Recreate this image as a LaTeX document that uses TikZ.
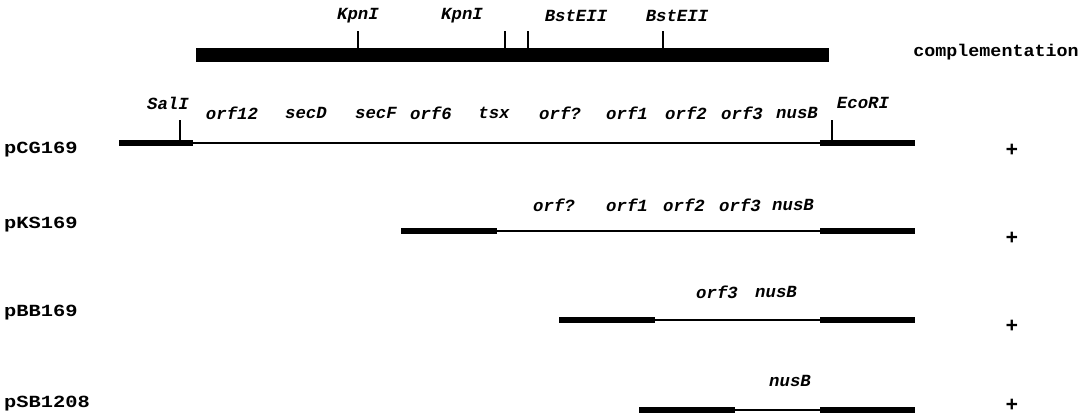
\documentclass[tikz,border=0pt]{standalone}
\usepackage{fontspec}
\usepackage{graphicx}
\newfontfamily\cour{Liberation Mono}
\newcommand\gtxt[1]{\scalebox{1.02}[1]{#1}}
\newcommand\ltxt[1]{\scalebox{1.2}[1]{#1}}
\tikzset{
  lbl/.style={font=\cour\bfseries\fontsize{17}{17}\selectfont, inner sep=0pt},
  gene/.style={font=\cour\bfseries\itshape\fontsize{17}{17}\selectfont, inner sep=0pt},
  plus/.style={font=\cour\bfseries\fontsize{21}{21}\selectfont, inner sep=0pt},
  fatline/.style={line width=5.5pt},
  thinline/.style={line width=2.2pt},
  tick/.style={line width=2.5pt},
  bar/.style={fill=black},
}
\begin{document}
\begin{tikzpicture}[x=1pt,y=-1pt]
\useasboundingbox (0,0) rectangle (1088,418);
% top map
\fill[bar] (196,48) rectangle (829,62);
\coordinate (k1) at (358,48); \coordinate (k1t) at (358,31);
\coordinate (k2) at (505,48); \coordinate (k2t) at (505,31);
\coordinate (b1) at (528,48); \coordinate (b1t) at (528,31);
\coordinate (b2) at (663,48); \coordinate (b2t) at (663,31);
\draw[tick] (k1) -- (k1t); \draw[tick] (k2) -- (k2t);
\draw[tick] (b1) -- (b1t); \draw[tick] (b2) -- (b2t);
\node[gene] (kpn1) at (358,16) {\gtxt{KpnI}};
\node[gene] (kpn2) at (462,16) {\gtxt{KpnI}};
\node[gene] (bst1) at (576,16) {\gtxt{BstEII}};
\node[gene] (bst2) at (677,16) {\gtxt{BstEII}};
\node[lbl] (comp) at (996,52) {\scalebox{1.08}[1]{complementation}};
% pCG169
\node[lbl,anchor=west] (pcg) at (4,150) {\ltxt{pCG169}};
\draw[fatline] (119,143) -- (193,143);
\draw[thinline] (193,143) -- (820,143);
\draw[fatline] (820,143) -- (915,143);
\draw[tick] (180,143) -- (180,120);
\draw[tick] (832,143) -- (832,120);
\node[gene] (sal) at (168,103) {\gtxt{SalI}};
\node[gene] (eco) at (863,103) {\gtxt{EcoRI}};
\node[gene] at (232,113) {\gtxt{orf12}};
\node[gene] at (306,113) {\gtxt{secD}};
\node[gene] at (376,113) {\gtxt{secF}};
\node[gene] at (431,113) {\gtxt{orf6}};
\node[gene] at (494,113) {\gtxt{tsx}};
\node[gene] at (560,113) {\gtxt{orf?}};
\node[gene] at (627,113) {\gtxt{orf1}};
\node[gene] at (686,113) {\gtxt{orf2}};
\node[gene] at (742,113) {\gtxt{orf3}};
\node[gene] at (797,113) {\gtxt{nusB}};
\node[plus] (plus1) at (1012,150) {+};
% pKS169
\node[lbl,anchor=west] (pks) at (4,225) {\ltxt{pKS169}};
\draw[fatline] (401,231) -- (497,231);
\draw[thinline] (497,231) -- (820,231);
\draw[fatline] (820,231) -- (915,231);
\node[gene] at (554,205) {\gtxt{orf?}};
\node[gene] at (627,205) {\gtxt{orf1}};
\node[gene] at (684,205) {\gtxt{orf2}};
\node[gene] at (740,205) {\gtxt{orf3}};
\node[gene] at (793,205) {\gtxt{nusB}};
\node[plus] (plus2) at (1012,238) {+};
% pBB169
\node[lbl,anchor=west] (pbb) at (4,313) {\ltxt{pBB169}};
\draw[fatline] (559,320) -- (655,320);
\draw[thinline] (655,320) -- (820,320);
\draw[fatline] (820,320) -- (915,320);
\node[gene] at (717,292) {\gtxt{orf3}};
\node[gene] at (776,292) {\gtxt{nusB}};
\node[plus] (plus3) at (1012,326) {+};
% pSB1208
\node[lbl,anchor=west] (psb) at (4,404) {\ltxt{pSB1208}};
\draw[fatline] (639,410) -- (735,410);
\draw[thinline] (735,410) -- (820,410);
\draw[fatline] (820,410) -- (915,410);
\node[gene] at (790,381) {\gtxt{nusB}};
\node[plus] (plus4) at (1012,405) {+};
\end{tikzpicture}
\end{document}
